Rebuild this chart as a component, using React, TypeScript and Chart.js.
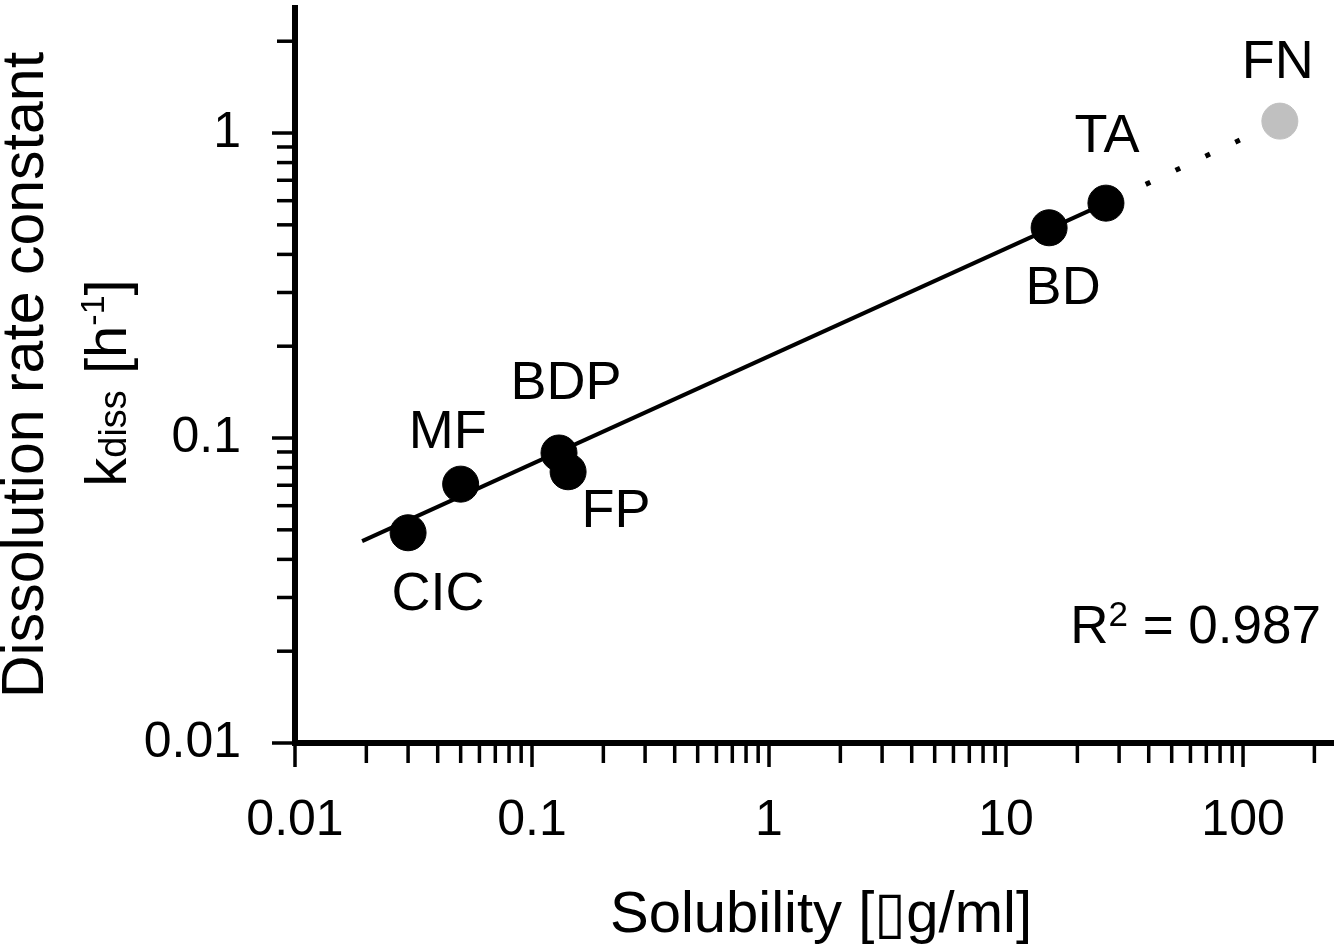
import React, { useEffect, useRef } from "react";
import { Chart, registerables } from "chart.js";

Chart.register(...registerables);

// ---------------- data ----------------
const drugNames = ["CIC", "MF", "BDP", "FP", "BD", "TA"];
const solubility = [0.03, 0.05, 0.13, 0.142, 15.2, 26.4];
const kdiss = [0.0489, 0.0706, 0.0893, 0.0775, 0.489, 0.589];

const excludedNames = ["FN"];
const excludedSolubility = [143];
const excludedKdiss = [1.094];

const fitSolubility = [0.0192, 26.4];
const fitKdiss = [0.0459, 0.589];

const extrapSolubility = [26.4, 143];
const extrapKdiss = [0.589, 1.094];

const xTickValues = [0.01, 0.1, 1, 10, 100];
const xTickLabels = ["0.01", "0.1", "1", "10", "100"];
const yTickValues = [0.01, 0.1, 1];
const yTickLabels = ["0.01", "0.1", "1"];
const xLimits = [0.01, 242];
const yLimits = [0.01, 2.57];

const rSquared = "0.987";
const xTitle = "Solubility [\u25AFg/ml]";
const yTitleLine1 = "Dissolution rate constant";

// ---------------- style ----------------
const FAMILY = "'Liberation Sans', Arial, Helvetica, sans-serif";
const labelOffsets: Record<string, [number, number]> = {
  CIC: [30, 62],
  MF: [-13, -51],
  BDP: [7, -69],
  FP: [48, 40],
  BD: [14, 61],
  TA: [1, -66],
  FN: [-2, -58],
};

function minorTicks(min: number, max: number): number[] {
  const out: number[] = [];
  for (let e = Math.floor(Math.log10(min)); e <= Math.ceil(Math.log10(max)); e++) {
    for (let m = 1; m <= 9; m++) {
      const v = parseFloat((m * Math.pow(10, e)).toPrecision(6));
      if (v >= min * 0.9999 && v <= max * 1.0001) out.push(v);
    }
  }
  return out;
}

function labelFor(values: number[], labels: string[], v: number): string {
  for (let i = 0; i < values.length; i++) {
    if (Math.abs(Math.log10(v) - Math.log10(values[i])) < 1e-6) return labels[i];
  }
  return "";
}

type Run = { text: string; size: number; raise: number };

function drawRuns(ctx: CanvasRenderingContext2D, runs: Run[], x: number, y: number, align: string) {
  let total = 0;
  const widths = runs.map((r) => {
    ctx.font = `${r.size}px ${FAMILY}`;
    const w = ctx.measureText(r.text).width;
    total += w;
    return w;
  });
  let cx = align === "center" ? x - total / 2 : align === "right" ? x - total : x;
  ctx.textAlign = "left";
  runs.forEach((r, i) => {
    ctx.font = `${r.size}px ${FAMILY}`;
    ctx.fillText(r.text, cx, y - r.raise);
    cx += widths[i];
  });
}

function zeroPadding(s: any) {
  s.paddingTop = 0;
  s.paddingBottom = 0;
  s.paddingLeft = 0;
  s.paddingRight = 0;
}

const decor = {
  id: "decor",
  afterDraw(chart: any) {
    const ctx: CanvasRenderingContext2D = chart.ctx;
    const xs = chart.scales.x;
    const ys = chart.scales.y;
    ctx.save();
    ctx.strokeStyle = "#000";
    ctx.fillStyle = "#000";
    ctx.lineWidth = 3.5;
    ctx.lineCap = "butt";
    // tick marks
    xs.ticks.forEach((t: any) => {
      const px = xs.getPixelForValue(t.value);
      const major = labelFor(xTickValues, xTickLabels, t.value) !== "";
      ctx.beginPath();
      ctx.moveTo(px, xs.top);
      ctx.lineTo(px, xs.top + (major ? 24 : 20));
      ctx.stroke();
    });
    ys.ticks.forEach((t: any) => {
      const py = ys.getPixelForValue(t.value);
      const major = labelFor(yTickValues, yTickLabels, t.value) !== "";
      ctx.beginPath();
      ctx.moveTo(ys.right, py);
      ctx.lineTo(ys.right - (major ? 23 : 18), py);
      ctx.stroke();
    });

    // point labels
    ctx.textAlign = "center";
    ctx.textBaseline = "middle";
    ctx.font = `54px ${FAMILY}`;
    const m0 = chart.getDatasetMeta(0);
    drugNames.forEach((n, i) => {
      const el = m0.data[i];
      const o = labelOffsets[n] || [0, 0];
      ctx.fillText(n, el.x + o[0], el.y + o[1]);
    });
    const m1 = chart.getDatasetMeta(1);
    excludedNames.forEach((n, i) => {
      const el = m1.data[i];
      const o = labelOffsets[n] || [0, 0];
      ctx.fillText(n, el.x + o[0], el.y + o[1]);
    });

    // R squared
    ctx.textBaseline = "alphabetic";
    drawRuns(
      ctx,
      [
        { text: "R", size: 53, raise: 0 },
        { text: "2", size: 35, raise: 17 },
        { text: " = " + rSquared, size: 53, raise: 0 },
      ],
      1321,
      643,
      "right"
    );

    // x title
    ctx.textAlign = "center";
    ctx.font = `58px ${FAMILY}`;
    ctx.fillText(xTitle, 821, 932);

    // y title
    ctx.save();
    ctx.translate(43, 375);
    ctx.rotate(-Math.PI / 2);
    ctx.textAlign = "center";
    ctx.font = `59px ${FAMILY}`;
    ctx.fillText(yTitleLine1, 0, 0);
    ctx.restore();

    ctx.save();
    ctx.translate(126, 383);
    ctx.rotate(-Math.PI / 2);
    drawRuns(
      ctx,
      [
        { text: "k", size: 58, raise: 0 },
        { text: "diss", size: 38, raise: 0 },
        { text: " [h", size: 58, raise: 0 },
        { text: "-1", size: 34, raise: 22 },
        { text: "]", size: 58, raise: 0 },
      ],
      0,
      0,
      "center"
    );
    ctx.restore();
    ctx.restore();
  },
};

export default function App() {
  const ref = useRef<HTMLCanvasElement | null>(null);
  useEffect(() => {
    if (!ref.current) return;
    const chart = new Chart(ref.current, {
      type: "scatter",
      data: {
        datasets: [
          {
            label: "drugs",
            data: solubility.map((x, i) => ({ x, y: kdiss[i] })),
            backgroundColor: "#000",
            borderColor: "#000",
            pointRadius: 18,
            pointBorderWidth: 1,
            order: 0,
          },
          {
            label: "FN",
            data: excludedSolubility.map((x, i) => ({ x, y: excludedKdiss[i] })),
            backgroundColor: "#c0c0c0",
            borderColor: "#c0c0c0",
            pointRadius: 18,
            pointBorderWidth: 1,
            order: 0,
          },
          {
            label: "fit",
            data: fitSolubility.map((x, i) => ({ x, y: fitKdiss[i] })),
            showLine: true,
            borderColor: "#000",
            borderWidth: 4,
            pointRadius: 0,
            order: 2,
          },
          {
            label: "extrapolation",
            data: extrapSolubility.map((x, i) => ({ x, y: extrapKdiss[i] })),
            showLine: true,
            borderColor: "#000",
            borderWidth: 5,
            borderDash: [5, 28],
            borderDashOffset: 22,
            pointRadius: 0,
            order: 2,
          },
        ],
      } as any,
      options: {
        animation: false,
        responsive: true,
        maintainAspectRatio: false,
        events: [],
        layout: { autoPadding: false, padding: { top: 8, right: 0, left: 0, bottom: 0 } },
        plugins: { legend: { display: false }, tooltip: { enabled: false } },
        scales: {
          x: {
            type: "logarithmic",
            position: "bottom",
            min: xLimits[0],
            max: xLimits[1],
            afterBuildTicks: (s: any) => {
              s.ticks = minorTicks(xLimits[0], xLimits[1]).map((v) => ({ value: v }));
            },
            afterFit: (s: any) => {
              s.height = 205;
              zeroPadding(s);
            },
            grid: { display: true, drawOnChartArea: false, drawTicks: false },
            border: { display: true, width: 6, color: "#000" },
            ticks: {
              autoSkip: false,
              maxRotation: 0,
              minRotation: 0,
              padding: 48,
              color: "#000",
              font: { family: FAMILY, size: 50 },
              callback: (v: any) => labelFor(xTickValues, xTickLabels, Number(v)),
            },
          },
          y: {
            type: "logarithmic",
            position: "left",
            min: yLimits[0],
            max: yLimits[1],
            afterBuildTicks: (s: any) => {
              s.ticks = minorTicks(yLimits[0], yLimits[1]).map((v) => ({ value: v }));
            },
            afterFit: (s: any) => {
              s.width = 295;
              zeroPadding(s);
            },
            grid: { display: true, drawOnChartArea: false, drawTicks: false },
            border: { display: true, width: 6, color: "#000" },
            ticks: {
              autoSkip: false,
              padding: 54,
              color: "#000",
              font: { family: FAMILY, size: 50 },
              callback: (v: any) => labelFor(yTickValues, yTickLabels, Number(v)),
            },
          },
        },
      } as any,
      plugins: [decor],
    });
    return () => chart.destroy();
  }, []);
  return (
    <div style={{ position: "absolute", left: 0, top: 0, width: 1334, height: 948, background: "#fff" }}>
      <canvas ref={ref} />
    </div>
  );
}
